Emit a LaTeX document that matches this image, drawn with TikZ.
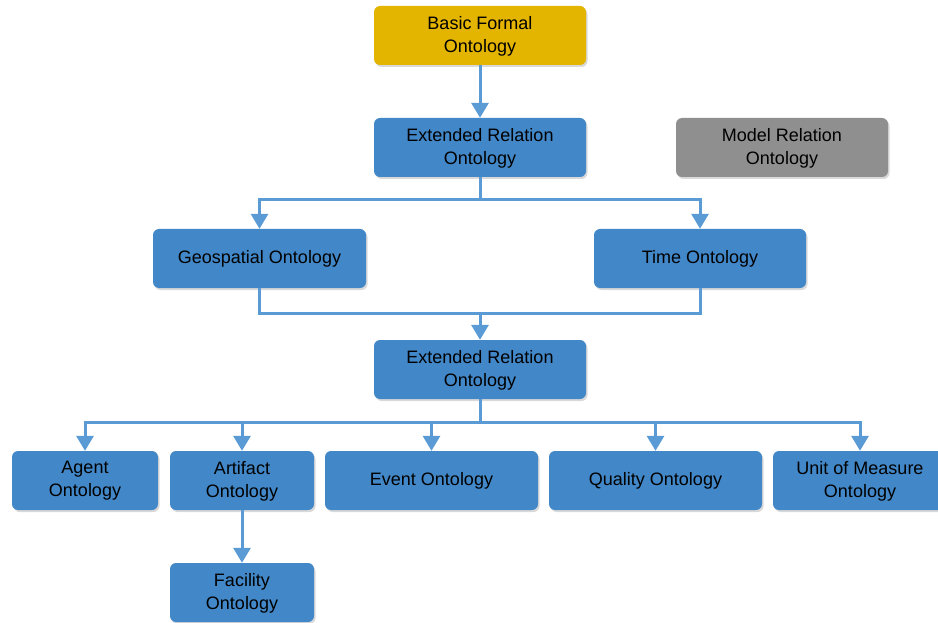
\documentclass[tikz,border=0pt]{standalone}
\usepackage{fontspec}
\setmainfont{Liberation Sans}
\usetikzlibrary{positioning,shadows,arrows.meta}

\definecolor{ontogold}{HTML}{E3B400}
\definecolor{ontoblue}{HTML}{4287C7}
\definecolor{ontogray}{HTML}{8F8F8F}
\definecolor{linkblue}{HTML}{5B9BD5}

\begin{document}
\begin{tikzpicture}[x=1pt,y=-1pt]
    \tikzstyle{every node}=[font=\fontsize{18}{23}\selectfont,align=center,inner sep=0,text=black]
    \tikzstyle{onto}=[rectangle,rounded corners=6,fill=ontoblue,minimum height=59,
        text depth=3,drop shadow={opacity=0.3,shadow xshift=1.5pt,shadow yshift=-2pt}]
    \tikzstyle{onto0}=[onto,fill=ontogold]
    \tikzstyle{onto1}=[onto,fill=ontogray]
    \tikzstyle{line}=[draw=linkblue,line width=3]
    \tikzstyle{link}=[line,-{Triangle[width=17,length=15]}]

    \useasboundingbox (0,0) rectangle (938,623);
    \clip (0,0) rectangle (938,623);

    % top part
    \node[onto0,minimum width=212] (bfo) at (480,35.5) {Basic Formal\\Ontology};
    \node[onto,minimum width=212] (ero) at (480,147.5) {Extended Relation\\Ontology};
    \node[onto1,minimum width=212] (mro) at (782,147.5) {Model Relation\\Ontology};
    \node[onto,minimum width=213] (geo) at (259.5,258.5) {Geospatial Ontology};
    \node[onto,minimum width=212] (time) at (700,258.5) {Time Ontology};
    \node[onto,minimum width=212] (ero2) at (480,369.5) {Extended Relation\\Ontology};

    % bottom row
    \node[onto,minimum width=146] (agent) at (85,480.5) {Agent\\Ontology};
    \node[onto,minimum width=144] (artifact) at (242,480.5) {Artifact\\Ontology};
    \node[onto,minimum width=213] (event) at (431.5,480.5) {Event Ontology};
    \node[onto,minimum width=213] (quality) at (655.5,480.5) {Quality Ontology};
    \node[onto,minimum width=174] (unit) at (860,480.5) {Unit of Measure\\Ontology};
    \node[onto,minimum width=144] (facility) at (242,592.5) {Facility\\Ontology};

    \coordinate (split1) at (480,200);
    \coordinate (join1) at (480,313);
    \coordinate (split2) at (480,422);

    \draw[link] (bfo) -- (ero);
    \draw[line] (ero) -- (split1);
    \draw[link] (split1) -| (geo);
    \draw[link] (split1) -| (time);
    \draw[line] (geo.south) |- (join1) -| (time.south);
    \draw[link] (join1) -- (ero2);
    \draw[line] (ero2) -- (split2);
    \foreach \n in {agent,artifact,event,quality,unit}
        \draw[link] (split2) -| (\n);
    \draw[link] (artifact) -- (facility);
\end{tikzpicture}
\end{document}
